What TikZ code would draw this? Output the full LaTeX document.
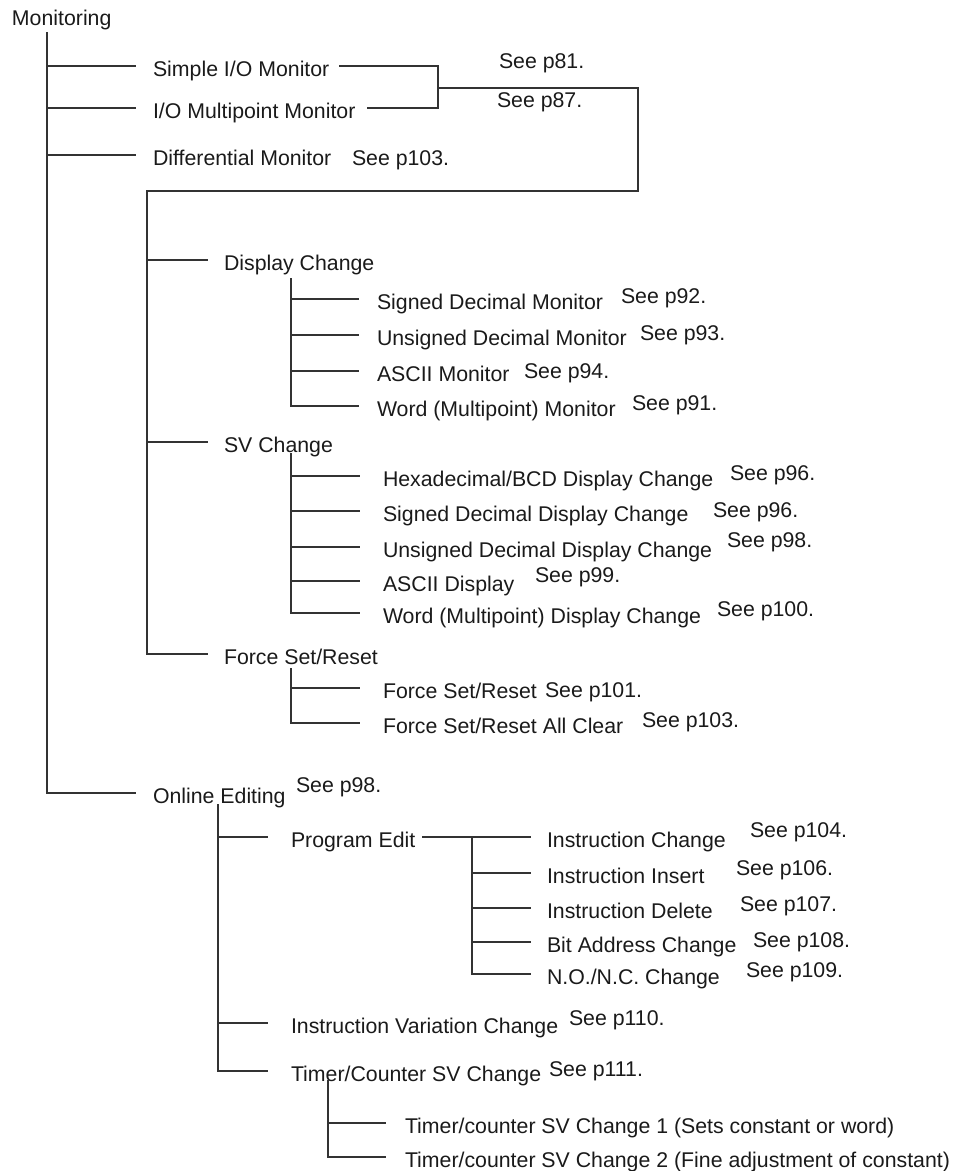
\documentclass[tikz,border=0pt]{standalone}
\usepackage{fontspec}
\setmainfont{Liberation Sans}
\definecolor{ln}{HTML}{333333}
\definecolor{tx}{HTML}{1A1A1A}
\begin{document}
\begin{tikzpicture}[x=1pt,y=-1pt,
  txt/.style={inner sep=0pt, outer sep=0pt, text height=20pt, text depth=0pt, anchor=west, text=tx, font=\fontsize{21.3}{25}\selectfont},
  seelbl/.style={inner sep=0pt, outer sep=0pt, anchor=base west, text=tx, font=\fontsize{21.3}{25}\selectfont},
  conn/.style={draw=ln, line width=1.3pt}]
\useasboundingbox (0,0) rectangle (956,1171);

% root
\node[txt] (mon) at (12,15) {Monitoring};
\coordinate (s0) at (47,32);
\node[txt] (sio) at (153,66) {Simple I/O Monitor};
\node[txt] (iom) at (153,108) {I/O Multipoint Monitor};
\node[txt] (dif) at (153,155) {Differential Monitor};
\node[txt] (oe) at (153,793) {Online Editing};
\draw[conn] (s0) |- ([xshift=-17pt]oe.west);
\foreach \n in {sio,iom,dif} \draw[conn] (s0 |- \n.west) -- ([xshift=-17pt]\n.west);

\node[seelbl] (p81) at (499,68) {See p81.};
\node[seelbl] (p87) at (497,107) {See p87.};
\node[seelbl] (p103a) at (352,165) {See p103.};
\node[seelbl] (p98a) at (296,792) {See p98.};

% bracket
\coordinate (bj) at (438,88);
\coordinate (bk) at (638,191);
\coordinate (s1) at (147,191);
\node[txt] (dc) at (224,260) {Display Change};
\node[txt] (svc) at (224,442) {SV Change};
\node[txt] (fsr) at (224,654) {Force Set/Reset};
\draw[conn] ([xshift=10pt]sio.east) -| (bj |- iom.east) -- ([xshift=12pt]iom.east);
\draw[conn] (bj) -| (bk) -- (s1) |- ([xshift=-16pt]fsr.west);
\foreach \n in {dc,svc} \draw[conn] (s1 |- \n.west) -- ([xshift=-16pt]\n.west);

% Display Change children
\coordinate (s2) at (291,278);
\node[txt] (sdm) at (377,299) {Signed Decimal Monitor};
\node[txt] (udm) at (377,335) {Unsigned Decimal Monitor};
\node[txt] (am) at (377,371) {ASCII Monitor};
\node[txt] (wmm) at (377,406) {Word (Multipoint) Monitor};
\draw[conn] (s2) |- ([xshift=-18pt]wmm.west);
\foreach \n in {sdm,udm,am} \draw[conn] (s2 |- \n.west) -- ([xshift=-18pt]\n.west);
\node[seelbl] (p92) at (621,303) {See p92.};
\node[seelbl] (p93) at (640,340) {See p93.};
\node[seelbl] (p94) at (524,378) {See p94.};
\node[seelbl] (p91) at (632,410) {See p91.};

% SV Change children
\coordinate (s3) at (291,453);
\node[txt] (hex) at (383,476) {Hexadecimal/BCD Display Change};
\node[txt] (sdd) at (383,511) {Signed Decimal Display Change};
\node[txt] (udd) at (383,547) {Unsigned Decimal Display Change};
\node[txt] (ad) at (383,581) {ASCII Display};
\node[txt] (wdd) at (383,613) {Word (Multipoint) Display Change};
\draw[conn] (s3) |- ([xshift=-23pt]wdd.west);
\foreach \n in {hex,sdd,udd,ad} \draw[conn] (s3 |- \n.west) -- ([xshift=-23pt]\n.west);
\node[seelbl] (p96a) at (730,480) {See p96.};
\node[seelbl] (p96b) at (713,517) {See p96.};
\node[seelbl] (p98b) at (727,547) {See p98.};
\node[seelbl] (p99) at (535,582) {See p99.};
\node[seelbl] (p100) at (717,616) {See p100.};

% Force Set/Reset children
\coordinate (s4) at (291,668);
\node[txt] (fs1) at (383,688) {Force Set/Reset};
\node[txt] (fs2) at (383,723) {Force Set/Reset All Clear};
\draw[conn] (s4) |- ([xshift=-23pt]fs2.west);
\draw[conn] (s4 |- fs1.west) -- ([xshift=-23pt]fs1.west);
\node[seelbl] (p101) at (545,697) {See p101.};
\node[seelbl] (p103b) at (642,727) {See p103.};

% Online Editing children
\coordinate (s5) at (218,804);
\node[txt] (pe) at (291,837) {Program Edit};
\node[txt] (ivc) at (291,1023) {Instruction Variation Change};
\node[txt] (tcs) at (291,1071) {Timer/Counter SV Change};
\draw[conn] (s5) |- ([xshift=-23pt]tcs.west);
\foreach \n in {pe,ivc} \draw[conn] (s5 |- \n.west) -- ([xshift=-23pt]\n.west);
\node[seelbl] (p110) at (569,1025) {See p110.};
\node[seelbl] (p111) at (549,1076) {See p111.};

% Program Edit children
\coordinate (s6) at (472,837);
\node[txt] (ic) at (547,837) {Instruction Change};
\node[txt] (ii) at (547,873) {Instruction Insert};
\node[txt] (id) at (547,908) {Instruction Delete};
\node[txt] (bac) at (547,942) {Bit Address Change};
\node[txt] (nonc) at (547,974) {N.O./N.C. Change};
\draw[conn] ([xshift=7pt]pe.east) -- ([xshift=-16pt]ic.west);
\draw[conn] (s6) |- ([xshift=-16pt]nonc.west);
\foreach \n in {ii,id,bac} \draw[conn] (s6 |- \n.west) -- ([xshift=-16pt]\n.west);
\node[seelbl] (p104) at (750,837) {See p104.};
\node[seelbl] (p106) at (736,875) {See p106.};
\node[seelbl] (p107) at (740,911) {See p107.};
\node[seelbl] (p108) at (753,947) {See p108.};
\node[seelbl] (p109) at (746,977) {See p109.};

% Timer/Counter children
\coordinate (s7) at (328,1080);
\node[txt] (tc1) at (405,1123) {Timer/counter SV Change 1 (Sets constant or word)};
\node[txt] (tc2) at (405,1157) {Timer/counter SV Change 2 (Fine adjustment of constant)};
\draw[conn] (s7) |- ([xshift=-19pt]tc2.west);
\draw[conn] (s7 |- tc1.west) -- ([xshift=-19pt]tc1.west);
\end{tikzpicture}
\end{document}
